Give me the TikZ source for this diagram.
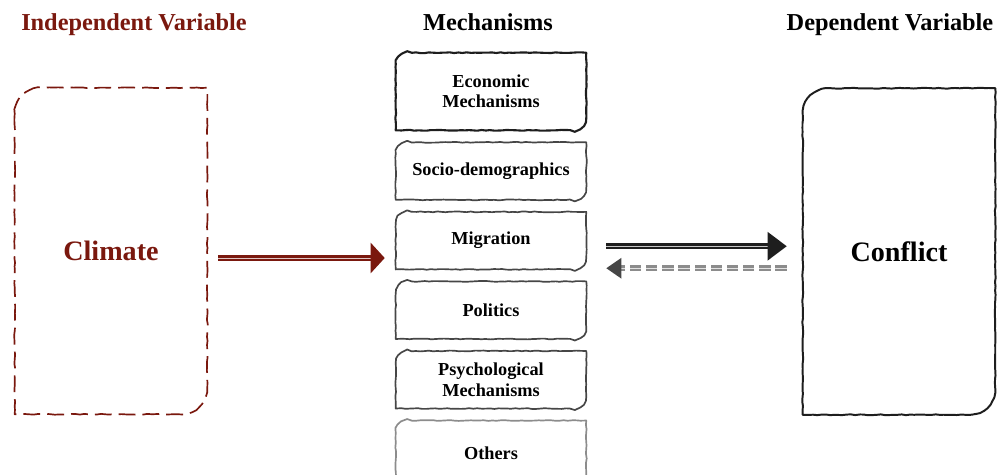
\documentclass[tikz,border=0pt]{standalone}
\usepackage{fontspec}
\setmainfont{Liberation Serif}
\usetikzlibrary{arrows.meta,positioning,calc,decorations.pathmorphing}
\definecolor{rust}{RGB}{122,24,14}
\definecolor{charcoal}{RGB}{30,30,30}
\definecolor{slate}{RGB}{70,70,70}
\definecolor{ash}{RGB}{140,140,140}
\tikzset{
  title/.style={font=\fontsize{17.3}{20}\selectfont\bfseries,anchor=base,text=#1},
  title/.default=black,
  var/.style={minimum width=4.8cm,minimum height=8.15cm,inner sep=0pt,
    font=\fontsize{20}{24}\selectfont\bfseries,text=#1},
  var/.default=black,
  mech/.style={minimum width=4.75cm,minimum height=1.425cm,inner sep=0pt,align=center,
    font=\fontsize{13}{14.5}\selectfont\bfseries},
  sketch/.style={draw=#1,line width=1.2pt,line join=round,decorate,
    decoration={random steps,segment length=3pt,amplitude=0.3pt}},
  sketch/.default=slate,
  causal/.style={draw=#1,double=white!75!#1,double distance=0.45pt,line width=1.8pt},
  causal/.default=charcoal,
}
% hand-drawn outline round a node: rounded top left and bottom right
\newcommand\sketchbox[3][]{%
  \draw[#1] ([yshift=-#3]#2.north west) arc[start angle=180,end angle=90,radius=#3]
    -- (#2.north east) -- ([yshift=#3]#2.south east)
    arc[start angle=0,end angle=-90,radius=#3] -- (#2.south west) -- cycle;}
\begin{document}
\begin{tikzpicture}
  \useasboundingbox (0,0) rectangle (24.925,-11.85);
  % titles
  \node[title=rust] (indep title) at (3.35,-0.75) {Independent Variable};
  \node[title] (mech title) at (12.2,-0.75) {Mechanisms};
  \node[title] (dep title) at (22.25,-0.75) {Dependent Variable};
  % variables
  \node[var=rust] (clim) at (2.775,-6.275) {Climate};
  \node[var] (conf) at (22.475,-6.2875) {Conflict};
  \sketchbox[sketch=rust,dash pattern=on 12pt off 5pt]{clim}{0.65cm}
  \sketchbox[sketch=charcoal,line width=1.4pt]{conf}{0.65cm}
  % mechanisms
  \node[mech,minimum height=1.925cm] (econ) at (12.275,-2.2875) {Economic\\Mechanisms};
  \node[mech,below=0.3cm of econ] (socio) {Socio-demographics};
  \node[mech,below=0.3cm of socio] (migr) {Migration};
  \node[mech,below=0.3cm of migr] (pol) {Politics};
  \node[mech,below=0.3cm of pol] (psych) {Psychological\\Mechanisms};
  \node[mech,below=0.3cm of psych,minimum height=1.6cm] (other) {Others};
  \sketchbox[sketch=charcoal,line width=1.5pt]{econ}{0.3cm}
  \foreach \m in {socio,migr,pol,psych} \sketchbox[sketch]{\m}{0.3cm};
  \sketchbox[sketch=ash]{other}{0.3cm}
  % arrows
  \coordinate (clim out) at ($(clim.east)+(0.275,-0.175)$);
  \coordinate (migr in) at ($(migr.west |- clim out)+(-0.275,0)$);
  \draw[causal=rust,-{Triangle[length=0.35cm,width=0.75cm]}] (clim out) -- (migr in);
  \coordinate (fwd s) at ($(migr.east)+(0.5,-0.14)$);
  \coordinate (fwd e) at ($(conf.west |- fwd s)+(-0.4,0)$);
  \coordinate (back s) at ($(fwd e)+(0,-0.55)$);
  \coordinate (back e) at ($(fwd s)+(0,-0.55)$);
  \draw[causal,-{Triangle[length=0.475cm,width=0.7cm]}] (fwd s) -- (fwd e);
  \draw[causal=ash,dash pattern=on 8pt off 3.5pt,
    -{Triangle[length=0.375cm,width=0.5cm,color=slate]}] (back s) -- (back e);
\end{tikzpicture}
\end{document}
